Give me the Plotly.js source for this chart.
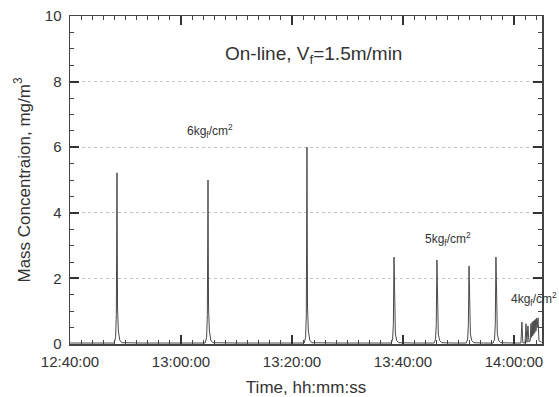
<!DOCTYPE html>
<html>
<head>
<meta charset="utf-8">
<script src="https://cdn.plot.ly/plotly-3.0.1.min.js"></script>
<style>html,body{margin:0;padding:0;background:#fff;}#chart{width:559px;height:397px;}</style>
</head>
<body>
<div id="chart"></div>
<script>
const day = '2014-05-20 ';

// Recorded time stamps (hh:mm:ss)
const timeStamps = [
  '12:40:00','12:43:00','12:46:00','12:47:58','12:48:13','12:48:21','12:48:28','12:48:34','12:48:43','12:48:58','12:49:20',
  '12:53:00','12:58:00','13:02:00','13:04:22','13:04:37','13:04:45','13:04:52','13:04:58','13:05:07','13:05:22','13:05:44',
  '13:10:00','13:15:00','13:20:00','13:22:12','13:22:27','13:22:35','13:22:42','13:22:48','13:22:57','13:23:12','13:23:34',
  '13:28:00','13:33:00','13:37:53','13:38:08','13:38:16','13:38:23','13:38:29','13:38:38','13:38:53','13:39:15',
  '13:42:00','13:45:37','13:45:52','13:46:00','13:46:07','13:46:13','13:46:22','13:46:37','13:46:59',
  '13:49:00','13:51:24','13:51:39','13:51:47','13:51:54','13:52:00','13:52:09','13:52:24','13:52:46',
  '13:54:30','13:56:15','13:56:30','13:56:38','13:56:45','13:56:51','13:57:00','13:57:15','13:57:37',
  '14:00:00','14:01:15','14:01:26','14:01:36','14:02:00','14:02:10','14:02:20','14:02:31','14:02:42',
  '14:02:55','14:03:04','14:03:10','14:03:16','14:03:22','14:03:28','14:03:34','14:03:40','14:03:46',
  '14:03:52','14:03:58','14:04:04','14:04:12','14:04:20','14:04:30','14:05:00'
];

// Mass concentration readings, mg/m3
const concentration = [
  0.03,0.04,0.03,0.03,0.20,0.90,5.22,1.10,0.40,0.12,0.04,
  0.03,0.04,0.03,0.03,0.20,0.90,5.00,1.10,0.40,0.12,0.04,
  0.03,0.04,0.03,0.03,0.20,0.90,6.00,1.10,0.40,0.12,0.04,
  0.03,0.04,0.03,0.15,0.60,2.65,0.70,0.30,0.10,0.04,
  0.03,0.03,0.15,0.60,2.56,0.70,0.30,0.10,0.04,
  0.03,0.03,0.15,0.60,2.38,0.70,0.30,0.10,0.04,
  0.03,0.03,0.15,0.60,2.65,0.70,0.30,0.10,0.04,
  0.03,0.03,0.67,0.04,0.03,0.62,0.05,0.55,0.06,
  0.10,0.62,0.20,0.66,0.25,0.70,0.30,0.72,0.35,
  0.75,0.40,0.78,0.50,0.80,0.10,0.05
];

// Text labels
const chartLabel = 'On-line, V<sub>f</sub>=1.5m/min';
const pressureLabels = ['6kg<sub>f</sub>/cm<sup>2</sup>', '5kg<sub>f</sub>/cm<sup>2</sup>', '4kg<sub>f</sub>/cm<sup>2</sup>'];
const xTitle = 'Time, hh:mm:ss';
const yTitle = 'Mass Concentraion, mg/m<sup>3</sup>';
const xRange = ['12:40:00', '14:05:03'];
const yRange = [0, 10];

const trace = {
  x: timeStamps.map(t => day + t),
  y: concentration,
  type: 'scatter',
  mode: 'lines',
  line: {color: '#4a4a4a', width: 1},
  hoverinfo: 'x+y'
};

const layout = {
  width: 559, height: 397,
  margin: {l: 70, r: 17, t: 16, b: 53},
  paper_bgcolor: '#ffffff', plot_bgcolor: '#ffffff',
  font: {family: 'Liberation Sans, Arial, sans-serif', color: '#333333', size: 15},
  showlegend: false,
  xaxis: {
    type: 'date',
    range: xRange.map(t => day + t),
    dtick: 1200000,
    tick0: day + '12:40:00',
    tickformat: '%H:%M:%S',
    showline: true, linecolor: '#444444', linewidth: 1.5, mirror: 'ticks',
    ticks: 'inside', ticklen: 9, tickwidth: 2, tickcolor: '#333333',
    zeroline: false,
    showgrid: false,
    ticklabelstandoff: 3,
    minor: {dtick: 120000, ticks: 'inside', ticklen: 4, tickcolor: '#444444', tickwidth: 1, showgrid: false},
    title: {text: xTitle, font: {size: 17}, standoff: 12}
  },
  yaxis: {
    range: yRange,
    dtick: 2,
    showline: true, linecolor: '#444444', linewidth: 1.5, mirror: 'ticks',
    ticks: 'inside', ticklen: 9, tickwidth: 2, tickcolor: '#333333',
    zeroline: false,
    showgrid: true, gridcolor: '#c4c4c4', griddash: 'dot', gridwidth: 1,
    ticklabelstandoff: 4,
    minor: {dtick: 0.5, ticks: 'inside', ticklen: 4, tickcolor: '#444444', tickwidth: 1, showgrid: false},
    title: {text: yTitle, font: {size: 17}, standoff: 10}
  },
  annotations: [
    {text: chartLabel, xref: 'paper', yref: 'paper', x: (313 - 70) / 472, y: (344 - 55) / 328,
     xanchor: 'center', yanchor: 'middle', showarrow: false, font: {size: 19, color: '#333333'}},
    {text: pressureLabels[0], xref: 'paper', yref: 'paper', x: (210 - 70) / 472, y: (344 - 131) / 328,
     xanchor: 'center', yanchor: 'middle', showarrow: false, font: {size: 12, color: '#333333'}},
    {text: pressureLabels[1], xref: 'paper', yref: 'paper', x: (448 - 70) / 472, y: (344 - 239) / 328,
     xanchor: 'center', yanchor: 'middle', showarrow: false, font: {size: 12, color: '#333333'}},
    {text: pressureLabels[2], xref: 'paper', yref: 'paper', x: (534 - 70) / 472, y: (344 - 299) / 328,
     xanchor: 'center', yanchor: 'middle', showarrow: false, font: {size: 12, color: '#333333'}}
  ]
};

Plotly.newPlot('chart', [trace], layout, {displayModeBar: false, staticPlot: true});
</script>
</body>
</html>
